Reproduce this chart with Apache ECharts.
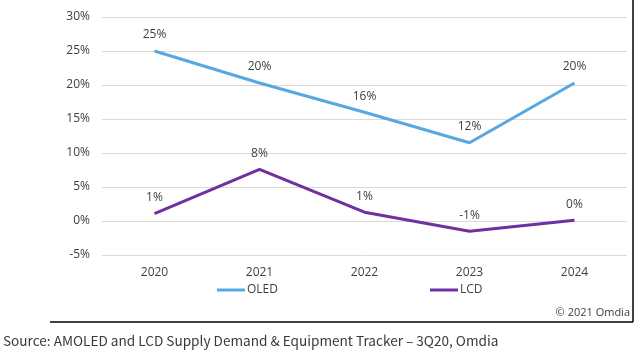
<!DOCTYPE html>
<html>
<head>
<meta charset="utf-8">
<script src="https://cdn.jsdelivr.net/npm/echarts@6/dist/echarts.min.js"></script>
<style>
  html, body { margin: 0; padding: 0; background: #fff; }
  #chart { width: 642px; height: 354px; }
</style>
</head>
<body>
<div id="chart"></div>
<script>
// 年份
const years = ['2020', '2021', '2022', '2023', '2024'];
// 增长率 (%)
const oledValues = [25.0, 20.3, 16.0, 11.5, 20.3];
const lcdValues = [1.1, 7.6, 1.3, -1.5, 0.1];
// 数据标签
const oledLabels = ['25%', '20%', '16%', '12%', '20%'];
const lcdLabels = ['1%', '8%', '1%', '-1%', '0%'];

const myChart = echarts.init(document.getElementById('chart'));
const font = 'Open Sans, Noto Sans, sans-serif';

const option = {
    animation: false,
    grid: { left: 102, right: 15, top: 17, bottom: 99, containLabel: false },
    legend: {
        data: ['OLED', 'LCD'],
        top: 279,
        left: 212,
        itemGap: 152,
        itemWidth: 28,
        itemHeight: 3,
        icon: 'rect',
        textStyle: { color: '#404040', fontSize: 12, fontFamily: font, padding: [0, 0, 0, -3] }
    },
    xAxis: {
        type: 'category',
        data: years,
        axisLine: { show: false },
        axisTick: { show: false },
        axisLabel: { color: '#404040', fontSize: 12, fontFamily: font, margin: 12 }
    },
    yAxis: {
        type: 'value',
        min: -5,
        max: 30,
        interval: 5,
        axisLabel: { formatter: '{value}%', color: '#404040', fontSize: 12, fontFamily: font, margin: 12 },
        splitLine: { lineStyle: { color: '#d9d9d9', width: 1 } }
    },
    series: [
        {
            name: 'OLED',
            type: 'line',
            data: oledValues,
            symbol: 'circle',
            symbolSize: 0,
            showSymbol: true,
            itemStyle: { color: '#56a8e2' },
            lineStyle: { width: 3, color: '#56a8e2' },
            label: {
                show: true, position: 'top', distance: 10,
                color: '#404040', fontSize: 12, fontFamily: font,
                formatter: p => oledLabels[p.dataIndex]
            }
        },
        {
            name: 'LCD',
            type: 'line',
            data: lcdValues,
            symbol: 'circle',
            symbolSize: 0,
            showSymbol: true,
            itemStyle: { color: '#7030a0' },
            lineStyle: { width: 3, color: '#7030a0' },
            label: {
                show: true, position: 'top', distance: 10,
                color: '#404040', fontSize: 12, fontFamily: font,
                formatter: p => lcdLabels[p.dataIndex]
            }
        }
    ],
    graphic: [
        { type: 'line', shape: { x1: 633, y1: 0, x2: 633, y2: 322 }, style: { stroke: '#000', lineWidth: 1.5 } },
        { type: 'line', shape: { x1: 50, y1: 322, x2: 633, y2: 322 }, style: { stroke: '#000', lineWidth: 1.5 } },
        { type: 'text', right: 12, top: 307, style: { text: '© 2021 Omdia', fill: '#404040', font: '11px ' + font } },
        { type: 'text', left: 3, top: 334, style: { text: 'Source: AMOLED and LCD Supply Demand & Equipment Tracker – 3Q20, Omdia', fill: '#3a3a3a', font: '13.6px Noto Sans CJK SC, sans-serif' } }
    ]
};

myChart.setOption(option);
</script>
</body>
</html>
